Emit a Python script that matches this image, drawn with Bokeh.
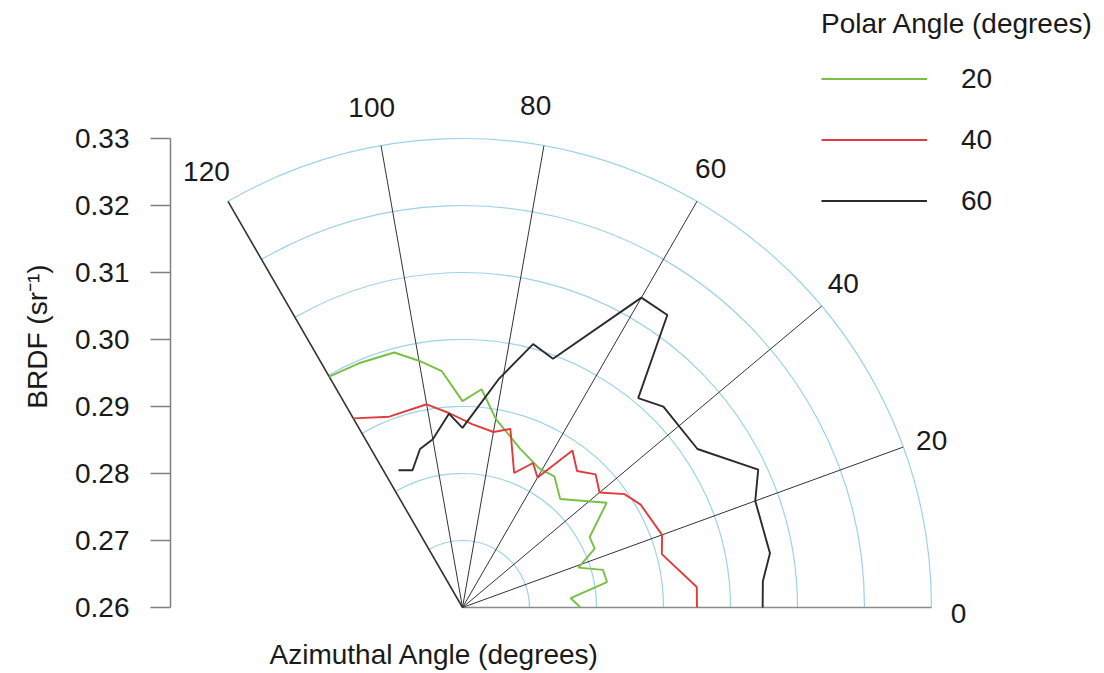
import math
from bokeh.plotting import figure
from bokeh.models import (LinearAxis, Range1d, Label, Legend, LegendItem,
                          FixedTicker, PrintfTickFormatter)
from bokeh.core.properties import value
from bokeh.embed import file_html
from bokeh.resources import INLINE

# ---------------- data ----------------
polar_labels = ["20", "40", "60"]
series_colors = ["#78bf45", "#e23b3b", "#2b2b2b"]

green_azimuth = [0, 5, 10, 15, 19, 24, 29, 36, 48, 55, 61, 70, 80, 85, 90, 95, 100, 105, 113, 120]
green_brdf = [0.2776, 0.2762, 0.2819, 0.2817, 0.2783, 0.2816, 0.2817, 0.2866, 0.2818, 0.2839,
              0.2837, 0.2852, 0.2886, 0.2927, 0.2908, 0.2954, 0.2974, 0.2994, 0.2996, 0.2998]

red_azimuth = [0, 5, 15, 20, 30, 35, 40, 45, 50, 55, 60, 64, 69, 75, 80, 87, 94, 100, 111, 120]
red_brdf = [0.2950, 0.2951, 0.2908, 0.2917, 0.2907, 0.2895, 0.2867, 0.2881, 0.2866, 0.2886,
            0.2824, 0.2840, 0.2815, 0.2876, 0.2866, 0.2874, 0.2891, 0.2908, 0.2905, 0.2926]

black_azimuth = [0, 5, 10, 20, 25, 34, 45, 50, 55, 60, 70, 75, 81, 85, 90, 94, 100, 105, 110, 115]
black_brdf = [0.3048, 0.3050, 0.3066, 0.3065, 0.3087, 0.3023, 0.3024, 0.3008, 0.3133, 0.3134,
              0.2995, 0.3007, 0.2945, 0.2905, 0.2868, 0.2890, 0.2855, 0.2845, 0.2818, 0.2826]

radial_ticks = [0.26, 0.27, 0.28, 0.29, 0.30, 0.31, 0.32, 0.33]
azimuth_ticks = [0, 20, 40, 60, 80, 100, 120]

# ---------------- layout constants ----------------
W, H = 1100, 672
LEFT = 170                 # left border for the BRDF axis
PX = 6700.0                # pixels per BRDF unit
CX, CY = 462, 607          # pole position in figure pixels
R0 = radial_ticks[0]
RMAX = radial_ticks[-1] - R0

# placement of the azimuth tick labels (label distance in px, small angular nudge in degrees)
label_dist_px = [496, 498, 500, 504, 507, 508, 506]
label_nudge_deg = [-0.7, -0.4, 0.4, 0.5, 1.7, 0.3, 0.4]

x_start = -(CX - LEFT) / PX
x_end = (W - CX) / PX
y_end = R0 + CY / PX
y_start = R0 - (H - CY) / PX

def fig_to_data(fx, fy):
    return (fx - CX) / PX, R0 + (CY - fy) / PX

FONT = "Liberation Sans"
FS = "28px"
TXT = "#1a1a1a"

p = figure(width=W, height=H, x_range=Range1d(x_start, x_end), y_range=Range1d(y_start, y_end),
           output_backend="svg", toolbar_location=None, x_axis_type=None, y_axis_type=None,
           min_border_left=LEFT, min_border_right=0, min_border_top=0, min_border_bottom=0,
           outline_line_color=None, background_fill_color="white", border_fill_color="white")

# left BRDF axis
yaxis = LinearAxis(ticker=FixedTicker(ticks=radial_ticks), bounds=(radial_ticks[0], radial_ticks[-1]),
                   formatter=PrintfTickFormatter(format="%.2f"))
yaxis.axis_line_color = "#808080"
yaxis.axis_line_width = 1.5
yaxis.major_tick_line_color = "#808080"
yaxis.major_tick_line_width = 1.5
yaxis.major_tick_out = 20
yaxis.major_tick_in = 0
yaxis.minor_tick_out = 0
yaxis.minor_tick_in = 0
yaxis.major_label_standoff = 21
yaxis.major_label_text_font = FONT
yaxis.major_label_text_font_size = FS
yaxis.major_label_text_color = TXT
p.add_layout(yaxis, "left")

# second (label-only) axis carrying the BRDF title, centred where the reference has it
lab_c = fig_to_data(0, 343)[1]
title_axis = LinearAxis(ticker=FixedTicker(ticks=[]), bounds=(lab_c - 0.01, lab_c + 0.01),
                        axis_label="BRDF (sr\u207b\u00b9)")
title_axis.axis_line_color = None
title_axis.major_tick_out = 0
title_axis.major_tick_in = 0
title_axis.minor_tick_out = 0
title_axis.minor_tick_in = 0
title_axis.major_label_text_font_size = "0px"
title_axis.axis_label_standoff = 20
title_axis.axis_label_text_font = FONT
title_axis.axis_label_text_font_size = FS
title_axis.axis_label_text_font_style = "normal"
title_axis.axis_label_text_color = TXT
p.add_layout(title_axis, "left")

# concentric grid arcs
arc_r = [t - R0 for t in radial_ticks[1:]]
p.arc(x=[0] * len(arc_r), y=[R0] * len(arc_r), radius=arc_r,
      start_angle=0, end_angle=math.radians(azimuth_ticks[-1]),
      line_color="#9dd2ea", line_width=1.2)

# radial spokes
sx1 = [RMAX * math.cos(math.radians(a)) for a in azimuth_ticks]
sy1 = [R0 + RMAX * math.sin(math.radians(a)) for a in azimuth_ticks]
spoke_colors = ["#8a8a8a"] + ["#333333"] * (len(azimuth_ticks) - 1)
spoke_widths = [1.5] + [1.0] * (len(azimuth_ticks) - 2) + [1.6]
p.segment(x0=[0] * len(azimuth_ticks), y0=[R0] * len(azimuth_ticks), x1=sx1, y1=sy1,
          line_color=spoke_colors, line_width=spoke_widths)

# azimuth labels
lab_ang = [math.radians(a + n) for a, n in zip(azimuth_ticks, label_nudge_deg)]
p.text(x=[d / PX * math.cos(t) for d, t in zip(label_dist_px, lab_ang)],
       y=[R0 + d / PX * math.sin(t) for d, t in zip(label_dist_px, lab_ang)],
       text=[str(a) for a in azimuth_ticks], text_align="center", text_baseline="middle",
       text_font=value(FONT), text_font_size=FS, text_color=TXT)

# data series
renderers = []
for az, br, col in [(green_azimuth, green_brdf, series_colors[0]),
                    (red_azimuth, red_brdf, series_colors[1]),
                    (black_azimuth, black_brdf, series_colors[2])]:
    xs = [(b - R0) * math.cos(math.radians(a)) for a, b in zip(az, br)]
    ys = [R0 + (b - R0) * math.sin(math.radians(a)) for a, b in zip(az, br)]
    renderers.append(p.line(xs, ys, line_color=col, line_width=1.9))

LEG_H = 32 + 8 + 3 * 61
legend = Legend(items=[LegendItem(label=lab, renderers=[r]) for lab, r in zip(polar_labels, renderers)],
                title="Polar Angle (degrees)", location=(821 - LEFT, H - LEG_H - 8), orientation="vertical",
                glyph_width=106, glyph_height=61, label_height=61, label_standoff=34, spacing=0,
                padding=0, margin=0, title_standoff=8,
                border_line_color=None, background_fill_alpha=0)
legend.title_text_font = FONT
legend.title_text_font_size = FS
legend.title_text_font_style = "normal"
legend.title_text_color = TXT
legend.label_text_font = FONT
legend.label_text_font_size = FS
legend.label_text_color = TXT
p.add_layout(legend, "center")

# azimuth title
ax, ay = fig_to_data(434, 654)
p.add_layout(Label(x=ax, y=ay, text="Azimuthal Angle (degrees)", text_align="center",
                   text_baseline="middle", text_font=FONT, text_font_size=FS, text_color=TXT))

open("out.html", "w").write(file_html(p, INLINE))
